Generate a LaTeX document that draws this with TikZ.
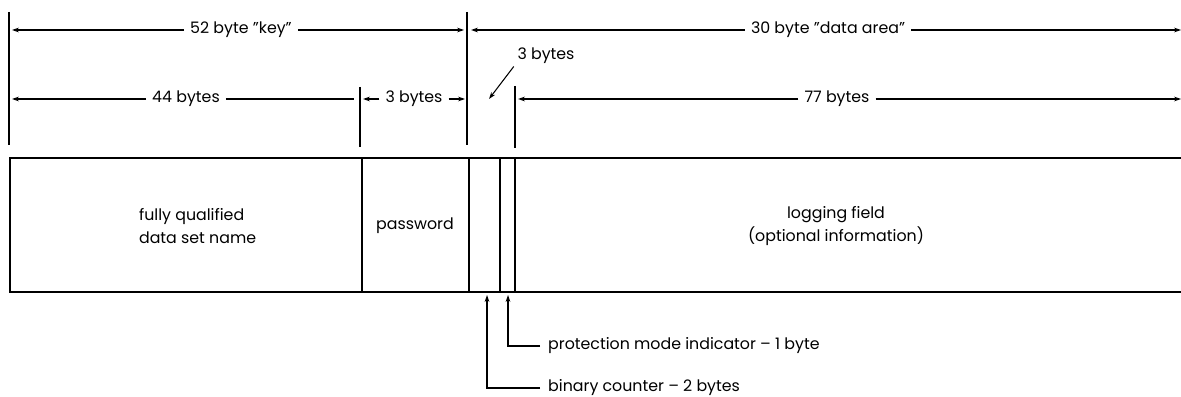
\documentclass[tikz,border=0pt]{standalone}
\usepackage{fontspec}
\setmainfont{Poppins}
\usetikzlibrary{positioning,arrows.meta}
\newcommand{\qq}{\symbol{34}}

\begin{document}
\begin{tikzpicture}[x=0.03cm, y=-0.03cm,
  dim/.style={line width=0.9pt, -{Stealth[length=6pt,width=4pt]}},
  plain/.style={line width=0.9pt},
  extline/.style={line width=1pt},
  field/.style={line width=1.3pt},
  lbl/.style={font=\fontsize{13.5}{19}\selectfont, inner xsep=5pt, inner ysep=2pt},
  side/.style={lbl, anchor=west, inner xsep=6.8pt},
]
  \useasboundingbox (0,0) rectangle (1181,397);

  % Extension lines above the record
  \foreach \x/\t/\b in {9/12/145, 467/12/145, 360/87/147, 515/86/148}{
    \draw[extline] (\x,\t) -- (\x,\b);
  }

  % Upper dimension row
  \coordinate (keyl) at (12,30);
  \coordinate (keyr) at (464,30);
  \coordinate (datl) at (471,30);
  \coordinate (datr) at (1181,30);
  \node[lbl] (key) at (241,30) {52 byte \qq key\qq};
  \node[lbl] (dat) at (828,30) {30 byte \qq data area\qq};
  \draw[dim] (key) -- (keyl);
  \draw[dim] (key) -- (keyr);
  \draw[dim] (dat) -- (datl);
  \draw[dim] (dat) -- (datr);

  % Lower dimension row
  \coordinate (dsnl) at (12,99);
  \coordinate (dsnr) at (354,99);
  \coordinate (pwl) at (363,99);
  \coordinate (pwr) at (465,99);
  \coordinate (logl) at (518,99);
  \coordinate (logr) at (1181,99);
  \node[lbl] (b44) at (186,99) {44 bytes};
  \node[lbl] (b3) at (414,99) {3 bytes};
  \node[lbl] (b77) at (837,99) {77 bytes};
  \draw[dim] (b44) -- (dsnl);
  \draw[plain] (b44) -- (dsnr);
  \draw[dim] (b3) -- (pwl);
  \draw[dim] (b3) -- (pwr);
  \draw[dim] (b77) -- (logl);
  \draw[dim] (b77) -- (logr);

  % Control bytes label
  \node[lbl, inner xsep=2pt] (b3s) at (546,56) {3 bytes};
  \coordinate (ctrl) at (489,99);
  \draw[dim] ([xshift=-1pt]b3s.south west) -- (ctrl);

  % Record layout
  \draw[line width=2.2pt] (1181,158) -- (10,158) -- (10,292) -- (1181,292);
  \foreach \x in {362,469,500,515}{
    \draw[field] (\x,158) -- (\x,292);
  }
  \node[lbl, align=left, anchor=west] (dsn) at (133,226) {fully qualified\\data set name};
  \node[lbl] (pw) at (415,226) {password};
  \node[lbl, align=center] (log) at (836,226) {logging field\\(optional information)};

  % Callouts below the record
  \coordinate (cnt) at (487,295);
  \coordinate (pmi) at (508,295);
  \node[side] (bc) at (540,388) {binary counter -- 2 bytes};
  \node[side] (pm) at (540,346) {protection mode indicator -- 1 byte};
  \draw[dim] (bc.west) -| (cnt);
  \draw[dim] (pm.west) -| (pmi);
\end{tikzpicture}
\end{document}
